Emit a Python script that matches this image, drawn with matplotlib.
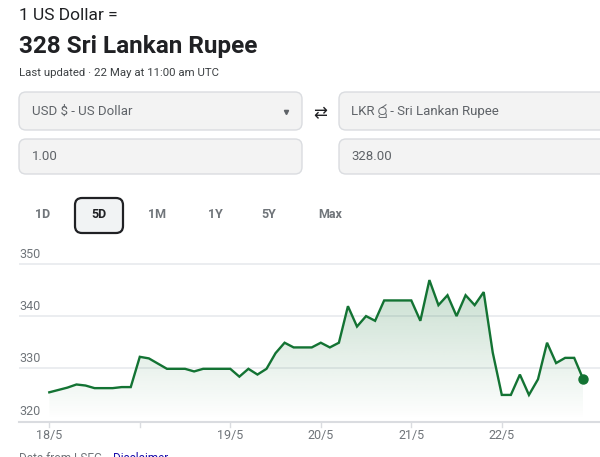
import numpy as np
import matplotlib
matplotlib.use("Agg")
import matplotlib.pyplot as plt
from matplotlib.patches import FancyBboxPatch
from matplotlib import font_manager

# rate samples (x in tenths of a tick step, value in LKR per USD)
x_idx = [0, 2, 3, 4, 5, 7, 8, 9, 10, 11, 13, 15, 16, 17, 20, 21, 22, 23, 24, 25,
         26, 27, 29, 30, 31, 32, 33, 34, 35, 36, 37, 40, 41, 42, 43, 44, 45, 46,
         47, 48, 49, 50, 51, 52, 53, 54, 55, 56, 57, 58, 59]
rate = [325.4, 326.3, 326.9, 326.7, 326.2, 326.2, 326.4, 326.4, 332.2, 331.9,
        329.9, 329.9, 329.4, 329.9, 329.9, 328.4, 329.9, 328.8, 329.9, 332.9,
        334.9, 334.0, 334.0, 334.9, 334.0, 334.9, 341.9, 338.0, 340.0, 339.1,
        343.0, 343.0, 339.1, 346.9, 342.1, 344.0, 340.0, 344.0, 342.1, 344.6,
        333.0, 324.9, 324.9, 328.8, 324.9, 327.9, 334.9, 331.0, 332.0, 332.0,
        327.9]
tick_pos = [0, 1, 2, 3, 4, 5]
tick_labels = ["18/5", "", "19/5", "20/5", "21/5", "22/5"]
y_ticks = [320, 330, 340, 350]
ranges = ["1D", "5D", "1M", "1Y", "5Y", "Max"]

W, H = 600, 457
green = "#137333"
grey_txt = "#70757a"

plt.rcParams["font.family"] = ["Roboto", "DejaVu Sans"]
sinhala = [f.name for f in font_manager.fontManager.ttflist if "Sinhala" in f.name]

fig = plt.figure(figsize=(6, 4.57), dpi=100)
bg = fig.add_axes([0, 0, 1, 1])
bg.set_xlim(0, W)
bg.set_ylim(H, 0)
bg.axis("off")

# header
bg.text(19, 16, "1 US Dollar =", fontsize=12.5, color="#202124", va="center")
bg.text(19, 47, "328 Sri Lankan Rupee", fontsize=17.5, fontweight="bold",
        color="#202124", va="center")
bg.text(19, 73, "Last updated · 22 May at 11:00 am UTC", fontsize=8.2,
        color="#3c4043", va="center")

def box(x0, y0, x1, y1):
    p = FancyBboxPatch((x0, y0), x1 - x0, y1 - y0,
                       boxstyle="round,pad=0,rounding_size=7",
                       fc="#f3f3f3", ec="#dadce0", lw=1)
    bg.add_patch(p)

box(19, 92, 302, 130)
box(339, 92, 612, 130)
box(19, 139, 302, 174)
box(339, 139, 612, 174)
bg.text(32, 111, "USD $ - US Dollar", fontsize=9.5, color="#5f6368", va="center")
bg.plot([286], [112], marker="v", ms=3, color="#5f6368")
bg.text(320, 113, "⇄", fontsize=12, color="#202124", va="center", ha="center",
        family="DejaVu Sans")
lkr_fam = ["Roboto"] + sinhala[:1] + ["DejaVu Sans"]
bg.text(351, 111, "LKR රු - Sri Lankan Rupee", fontsize=9.5, color="#5f6368",
        va="center", family=lkr_fam)
bg.text(32, 156, "1.00", fontsize=9.5, color="#5f6368", va="center")
bg.text(351, 156, "328.00", fontsize=9.5, color="#5f6368", va="center")

# range buttons
btn_x = [43, 99, 157, 215, 269, 330]
sel = FancyBboxPatch((75, 198), 48, 35, boxstyle="round,pad=0,rounding_size=7",
                     fc="#f1f3f4", ec="#202124", lw=1.6)
bg.add_patch(sel)
for bx, r in zip(btn_x, ranges):
    c = "#202124" if r == "5D" else grey_txt
    bg.text(bx, 215, r, fontsize=9, fontweight="bold", color=c, ha="center", va="center")

# footer (cut off by the frame, as in the screenshot)
foot = bg.text(19, 452, "Data from LSEG · ", fontsize=8.5, color=grey_txt, va="top")
fig.canvas.draw()
bb = foot.get_window_extent().transformed(bg.transData.inverted())
bg.text(bb.x1 + 2, 452, "Disclaimer", fontsize=8.5, color="#1a0dab", va="top")

# chart
px_per_day = 90.5
px_per_unit = 5.22
x0px, base_px, top_px = 49.3, 420.5, 258
ax = fig.add_axes([19 / W, (H - base_px) / H, (W - 19) / W, (base_px - top_px) / H])
ax.set_xlim((19 - x0px) / px_per_day, (W - x0px) / px_per_day)
ax.set_ylim(320, 320 + (base_px - top_px) / px_per_unit)
ax.axis("off")

xs = np.array(x_idx) / 10.0
ys = np.array(rate)

for v in y_ticks[1:]:
    ax.axhline(v, color="#e8eaed", lw=1.2, zorder=0)
for v in y_ticks:
    ax.annotate(str(v), xy=(0, v), xycoords=("axes fraction", "data"),
                xytext=(0, 4.2), textcoords="offset points", fontsize=9,
                color=grey_txt, va="baseline", ha="left")

poly = ax.fill_between(xs, ys, 320, facecolor="none", edgecolor="none")
grad = np.zeros((256, 1, 4))
grad[:, 0, 0] = 19 / 255
grad[:, 0, 1] = 115 / 255
grad[:, 0, 2] = 51 / 255
grad[:, 0, 3] = np.linspace(0.24, 0.0, 256)
im = ax.imshow(grad, extent=[xs.min(), xs.max(), 320, ys.max()], aspect="auto",
               origin="upper", zorder=1)
im.set_clip_path(poly.get_paths()[0], transform=ax.transData)

ax.plot(xs, ys, color=green, lw=1.7, zorder=3, solid_joinstyle="miter")
ax.plot(xs[-1], ys[-1], "o", color=green, ms=6.5, zorder=4)

# bottom axis and ticks
bg.plot([19, W], [421.5, 421.5], color="#dadce0", lw=1.5)
for t, lab in zip(tick_pos, tick_labels):
    px = x0px + t * px_per_day
    bg.plot([px, px], [422, 427], color="#dadce0", lw=1)
    if lab:
        bg.text(px, 436, lab, fontsize=9, color=grey_txt, ha="center", va="center")

fig.savefig("out.png", dpi=100)
